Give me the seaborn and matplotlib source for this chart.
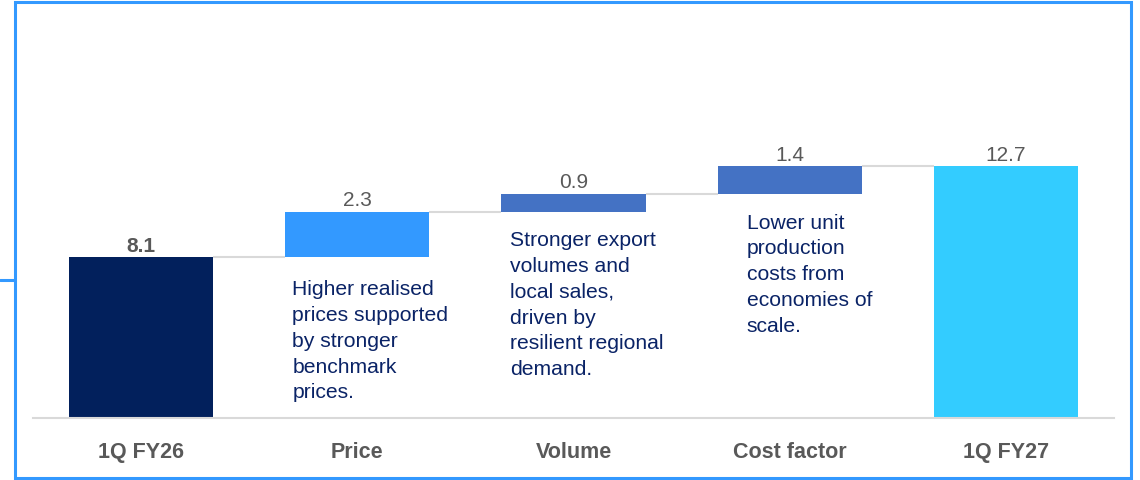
import numpy as np
import pandas as pd
import matplotlib
matplotlib.use("Agg")
import matplotlib.pyplot as plt
from matplotlib.lines import Line2D
from matplotlib.patches import Rectangle
import seaborn as sns

categories = ["1Q FY26", "Price", "Volume", "Cost factor", "1Q FY27"]
values = [8.1, 2.3, 0.9, 1.4, 12.7]
is_total = [True, False, False, False, True]
value_labels = ["8.1", "2.3", "0.9", "1.4", "12.7"]
label_bold = [True, False, False, False, False]
bar_colors = ["#02205C", "#3399FF", "#4472C4", "#4472C4", "#33CCFF"]

note_price = "Higher realised\nprices supported\nby stronger\nbenchmark\nprices."
note_volume = "Stronger export\nvolumes and\nlocal sales,\ndriven by\nresilient regional\ndemand."
note_cost = "Lower unit\nproduction\ncosts from\neconomies of\nscale."

sns.set_style("white")
plt.rcParams["font.family"] = ["Liberation Sans", "DejaVu Sans"]

# waterfall bottoms from running total
bottoms = []
running = 0
for v, tot in zip(values, is_total):
    if tot:
        bottoms.append(0)
        running = v
    else:
        bottoms.append(running)
        running += v
bottoms = np.array(bottoms)
tops = bottoms + np.array(values)

df = pd.DataFrame({"cat": categories, "value": values})

W, H = 1140, 480
fig = plt.figure(figsize=(W / 100, H / 100), dpi=100)
ax = fig.add_axes([33 / W, 62 / H, 1081 / W, 0.83])

bar_w = 0.667
sns.barplot(data=df, x="cat", y="value", order=categories, bottom=bottoms,
            width=bar_w, errorbar=None, color="#4472C4", saturation=1, ax=ax)
for patch, c in zip(ax.patches, bar_colors):
    patch.set_facecolor(c)
    patch.set_edgecolor("none")

# connectors
x0 = np.arange(len(values) - 1) + bar_w / 2
x1 = np.arange(1, len(values)) - bar_w / 2
ax.hlines(tops[:-1], x0, x1, color="#D9D9D9", lw=1.5, zorder=0)

for i, (lab, top, b) in enumerate(zip(value_labels, tops, label_bold)):
    ax.annotate(lab, (i, top), xytext=(0, 4), textcoords="offset points",
                ha="center", va="baseline", fontsize=15, color="#595959",
                fontweight="bold" if b else "normal")

note_kw = dict(ha="left", va="top", fontsize=15.2, color="#0A2366",
               linespacing=1.45)
ax.text(0.699, 6.94, note_price, **note_kw)
ax.text(1.708, 9.41, note_volume, **note_kw)
ax.text(2.801, 10.31, note_cost, **note_kw)

ax.set_xlim(-0.5, 4.5)
ax.set_ylim(0, 20.1)
ax.set_yticks([])
ax.set_xlabel("")
ax.set_ylabel("")
sns.despine(ax=ax, left=True)
ax.spines["bottom"].set_color("#D9D9D9")
ax.spines["bottom"].set_linewidth(1.5)
ax.tick_params(axis="x", length=0, pad=17, labelsize=15.5, labelcolor="#595959")
for lbl in ax.get_xticklabels():
    lbl.set_fontweight("bold")

# frame round the chart
fig.add_artist(Rectangle((15 / W, 2 / H), 1116 / W, 476 / H, transform=fig.transFigure,
                         fill=False, edgecolor="#3399FF", lw=2.2))
fig.add_artist(Line2D([0, 15 / W], [1 - 280 / H, 1 - 280 / H], transform=fig.transFigure,
                      color="#3399FF", lw=2.2))

fig.savefig("out.png", dpi=100)
